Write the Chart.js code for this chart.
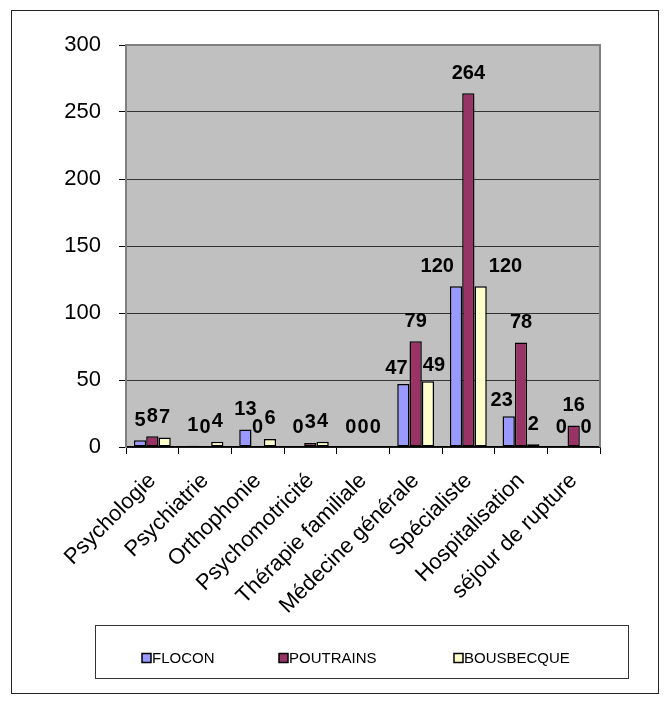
<!DOCTYPE html>
<html>
<head>
<meta charset="utf-8">
<script src="https://cdn.jsdelivr.net/npm/chart.js@4/dist/chart.umd.min.js"></script>
<style>
  body { margin: 0; background: #ffffff; }
  canvas { display: block; }
</style>
</head>
<body>
<canvas id="soinsChart" width="667" height="704"></canvas>
<script>
// Categories and series values
const categories = ['Psychologie', 'Psychiatrie', 'Orthophonie', 'Psychomotricité', 'Thérapie familiale',
    'Médecine générale', 'Spécialiste', 'Hospitalisation', 'séjour de rupture'];
const seriesNames = ['FLOCON', 'POUTRAINS', 'BOUSBECQUE'];
const flocon = [5, 1, 13, 0, 0, 47, 120, 23, 0];
const poutrains = [8, 0, 0, 3, 0, 79, 264, 78, 16];
const bousbecque = [7, 4, 6, 4, 0, 49, 120, 2, 0];
const yTicks = [0, 50, 100, 150, 200, 250, 300];

const seriesColors = ['#9999FF', '#993366', '#FFFFCC'];
const FONT = 'Liberation Sans, Arial, sans-serif';

// Gray plot background + gray frame on top/right
const plotFrame = {
    id: 'plotFrame',
    beforeDraw(chart) {
        const { ctx, chartArea: a } = chart;
        ctx.save();
        ctx.fillStyle = '#C0C0C0';
        ctx.fillRect(a.left, a.top, a.right - a.left, a.bottom - a.top);
        ctx.restore();
    },
    afterDatasetsDraw(chart) {
        const { ctx, chartArea: a } = chart;
        ctx.save();
        ctx.strokeStyle = '#808080';
        ctx.lineWidth = 2;
        ctx.beginPath();
        ctx.moveTo(a.left, a.top);
        ctx.lineTo(a.right, a.top);
        ctx.lineTo(a.right, a.bottom);
        ctx.stroke();
        ctx.restore();
    }
};

// Value labels above the bars; side labels move aside when the middle bar is in the way
const valueLabels = {
    id: 'valueLabels',
    afterDatasetsDraw(chart) {
        const { ctx } = chart;
        const gap = 10;
        ctx.save();
        ctx.font = 'bold 20px ' + FONT;
        ctx.fillStyle = '#000';
        ctx.textAlign = 'center';
        ctx.textBaseline = 'bottom';
        const mid = chart.getDatasetMeta(1).data;
        chart.data.datasets.forEach((ds, di) => {
            chart.getDatasetMeta(di).data.forEach((bar, i) => {
                const text = String(ds.data[i]);
                const w = ctx.measureText(text).width;
                let cx = bar.x;
                let bottom = bar.y - gap;
                const nb = mid[i];
                if (di !== 1 && nb) {
                    const nLeft = nb.x - nb.width / 2;
                    const nRight = nb.x + nb.width / 2;
                    const overlapsX = cx + w / 2 > nLeft && cx - w / 2 < nRight;
                    if (overlapsX && bottom > nb.y) {
                        const far = bar.y - nb.y > 100;
                        if (di === 0) {
                            cx = (far ? bar.x - bar.width / 2 + 4 : nLeft - 2) - w / 2;
                        } else {
                            cx = (far ? bar.x + bar.width / 2 + 2 : nRight + 1) + w / 2;
                        }
                        if (!far) bottom += 4;
                    }
                }
                ctx.fillText(text, cx, bottom);
            });
        });
        ctx.restore();
    }
};

// Outer frame and boxed legend at the bottom
const frameLegend = {
    id: 'frameLegend',
    afterDraw(chart) {
        const { ctx } = chart;
        ctx.save();
        ctx.strokeStyle = '#222';
        ctx.lineWidth = 1;
        ctx.strokeRect(11.5, 10.5, 647, 683);

        ctx.strokeStyle = '#333';
        ctx.strokeRect(95.5, 625.5, 533, 53);

        const itemX = [142, 279, 454];
        ctx.font = '15px ' + FONT;
        ctx.textBaseline = 'middle';
        ctx.textAlign = 'left';
        chart.data.datasets.forEach((ds, i) => {
            const x = itemX[i];
            ctx.fillStyle = ds.backgroundColor;
            ctx.fillRect(x, 653.5, 9, 9);
            ctx.strokeStyle = '#000';
            ctx.lineWidth = 1.5;
            ctx.strokeRect(x, 653.5, 9, 9);
            ctx.fillStyle = '#000';
            ctx.fillText(ds.label, x + 10, 658.5);
        });
        ctx.restore();
    }
};

const seriesData = [flocon, poutrains, bousbecque];

new Chart(document.getElementById('soinsChart').getContext('2d'), {
    type: 'bar',
    data: {
        labels: categories,
        datasets: seriesNames.map((name, i) => ({
            label: name,
            data: seriesData[i],
            backgroundColor: seriesColors[i],
            borderColor: '#000',
            borderWidth: 1.5,
            borderSkipped: false,
            categoryPercentage: 0.7,
            barPercentage: 1.0
        }))
    },
    options: {
        responsive: false,
        animation: false,
        devicePixelRatio: 1,
        layout: { padding: { top: 45, right: 67, bottom: 0, left: 0 } },
        plugins: {
            legend: { display: false },
            tooltip: { enabled: false }
        },
        scales: {
            x: {
                afterFit: s => { s.height = 257; },
                grid: {
                    display: true,
                    drawOnChartArea: false,
                    drawTicks: true,
                    tickLength: 7,
                    tickColor: '#000'
                },
                border: { color: '#000', width: 1.5 },
                ticks: {
                    color: '#000',
                    font: { family: FONT, size: 22 },
                    minRotation: 45,
                    maxRotation: 45,
                    padding: 14,
                    autoSkip: false
                }
            },
            y: {
                min: yTicks[0],
                max: yTicks[yTicks.length - 1],
                afterFit: s => { s.width = 126; },
                afterBuildTicks: s => { s.ticks = yTicks.map(v => ({ value: v })); },
                grid: {
                    color: c => (c.tick && c.tick.value === 300) ? '#808080' : '#333',
                    lineWidth: 1,
                    tickLength: 7,
                    tickColor: '#000'
                },
                border: { color: '#808080', width: 2 },
                ticks: {
                    color: '#000',
                    font: { family: FONT, size: 22 },
                    padding: 18
                }
            }
        }
    },
    plugins: [plotFrame, valueLabels, frameLegend]
});
</script>
</body>
</html>
